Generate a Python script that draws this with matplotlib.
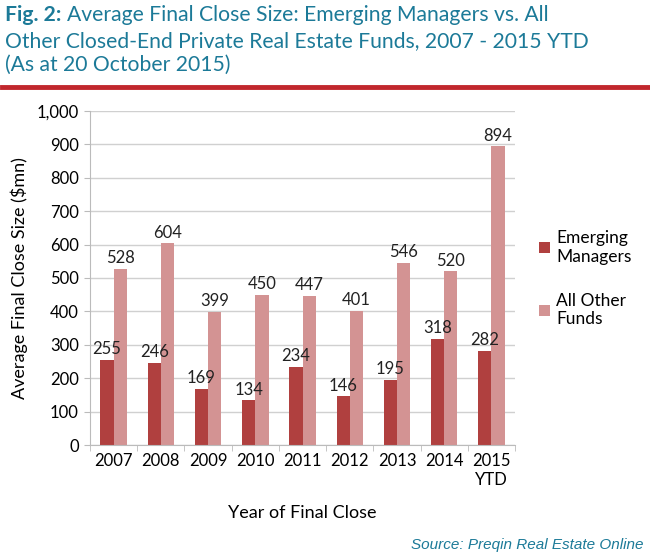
import matplotlib.pyplot as plt
import numpy as np

years = ['2007', '2008', '2009', '2010', '2011', '2012', '2013', '2014', '2015\nYTD']
emerging = [255, 246, 169, 134, 234, 146, 195, 318, 282]
all_other = [528, 604, 399, 450, 447, 401, 546, 520, 894]

dark = '#b0403f'
light = '#d39393'
teal = '#1c7a98'
font = 'Lato'

plt.rcParams['font.family'] = [font, 'DejaVu Sans']

fig = plt.figure(figsize=(6.5, 5.59), dpi=100)
ax = fig.add_axes([90 / 650, 1 - 445 / 559, 425 / 650, 334 / 559])

x = np.arange(len(years))
w = 0.28
b1 = ax.bar(x - w / 2, emerging, w, color=dark, label='Emerging\nManagers')
b2 = ax.bar(x + w / 2, all_other, w, color=light, label='All Other\nFunds')

for rect, v in zip(b1, emerging):
    ax.text(rect.get_x() + rect.get_width() / 2, v + 8, str(v), ha='center', va='bottom', fontsize=12, color='#222222')
for rect, v in zip(b2, all_other):
    ax.text(rect.get_x() + rect.get_width() / 2, v + 8, str(v), ha='center', va='bottom', fontsize=12, color='#222222')

ax.set_xlim(-0.5, len(years) - 0.5)
ax.set_ylim(0, 1000)
ax.set_yticks(range(0, 1001, 100))
ax.set_yticklabels([f'{t:,}' for t in range(0, 1001, 100)], fontsize=12)
ax.set_xticks(x)
ax.set_xticklabels(years, fontsize=12)
ax.set_xticks(np.arange(-0.5, len(years), 1), minor=True)
ax.tick_params(axis='x', which='major', length=0, pad=6)
ax.tick_params(axis='x', which='minor', length=4, color='#bbbbbb')
ax.tick_params(axis='y', length=4, color='#bbbbbb', pad=4)
ax.grid(axis='y', color='#d0d0d0', linewidth=1)
ax.set_axisbelow(True)
for s in ['top', 'right']:
    ax.spines[s].set_visible(False)
ax.spines['left'].set_color('#bbbbbb')
ax.spines['bottom'].set_color('#bbbbbb')

ax.set_ylabel('Average Final Close Size ($mn)', fontsize=13, labelpad=6)
ax.set_xlabel('Year of Final Close', fontsize=13, labelpad=12)

ax.legend(loc='upper left', bbox_to_anchor=(1.02, 0.69), frameon=False, fontsize=12.5,
          handlelength=0.6, handleheight=0.6, handletextpad=0.4, labelspacing=1.6)

# title, placed by baseline
fig.text(5 / 650, 1 - 21 / 559, 'Fig. 2:', fontsize=15.2, color=teal, fontweight='bold', va='baseline')
fig.text(67 / 650, 1 - 21 / 559, 'Average Final Close Size: Emerging Managers vs. All', fontsize=15.2, color=teal, va='baseline')
fig.text(5 / 650, 1 - 47 / 559, 'Other Closed-End Private Real Estate Funds, 2007 - 2015 YTD', fontsize=15.2, color=teal, va='baseline')
fig.text(5 / 650, 1 - 71 / 559, '(As at 20 October 2015)', fontsize=15.2, color=teal, va='baseline')
fig.add_artist(plt.Line2D([0.003, 0.997], [1 - 87 / 559, 1 - 87 / 559], color='#c1272d', linewidth=3.5))

fig.text(0.99, 1 - 545 / 559, 'Source: Preqin Real Estate Online', fontsize=11, color=teal,
         style='italic', ha='right', va='center', family=['Liberation Sans', 'DejaVu Sans'])

fig.savefig('out.png', dpi=100)
